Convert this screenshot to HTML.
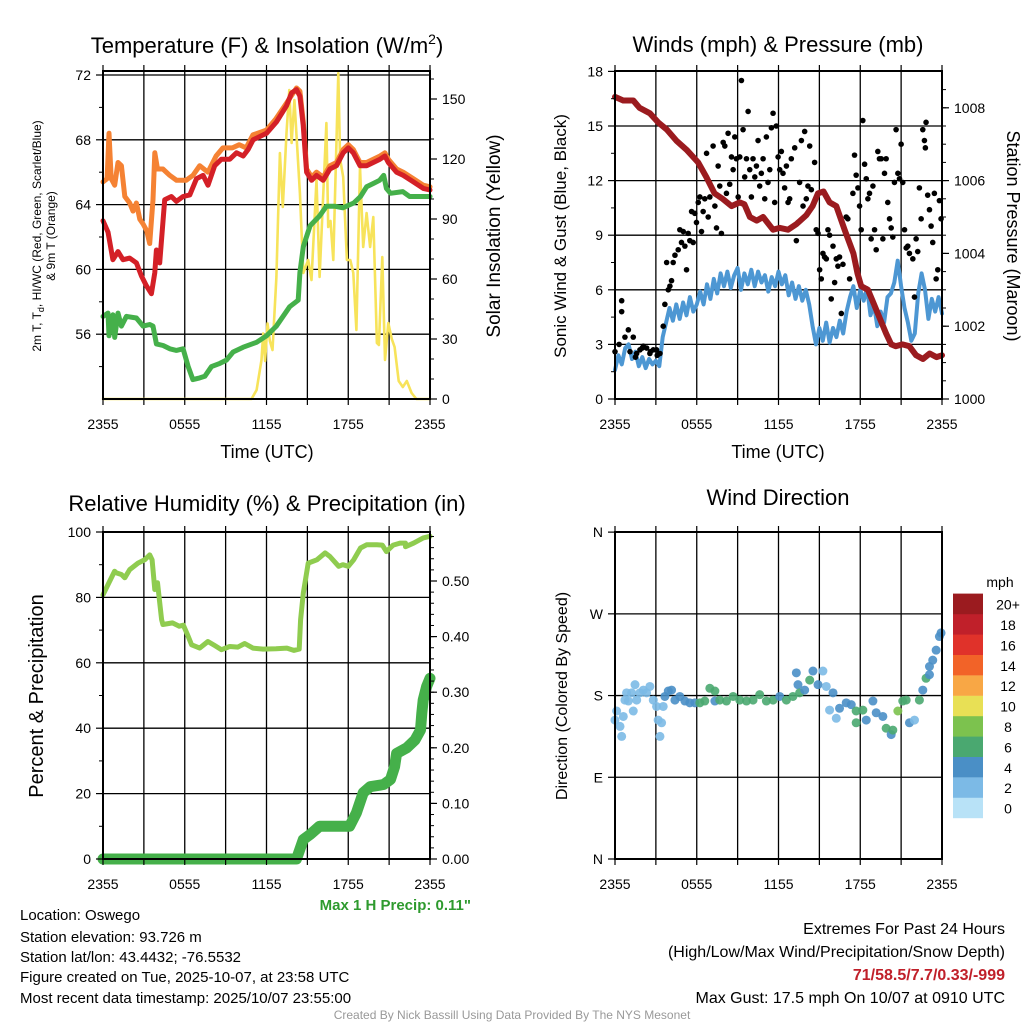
<!DOCTYPE html>
<html><head><meta charset="utf-8"><style>
body{margin:0;background:#fff}
svg{display:block;font-family:"Liberation Sans",Arial,sans-serif}
</style></head><body>
<svg id="c" width="1024" height="1024" viewBox="0 0 1024 1024" xmlns="http://www.w3.org/2000/svg">
<g id="grid"></g><g id="marks"></g><g id="frames"></g>
<g id="texts" fill="#000">
<text x="267" y="53" font-size="22" text-anchor="middle">Temperature (F) &amp; Insolation (W/m<tspan font-size="14" dy="-9">2</tspan><tspan dy="9">)</tspan></text>
<text x="778" y="52" font-size="22" text-anchor="middle">Winds (mph) &amp; Pressure (mb)</text>
<text x="267" y="511" font-size="22" text-anchor="middle">Relative Humidity (%) &amp; Precipitation (in)</text>
<text x="778" y="505" font-size="22" text-anchor="middle">Wind Direction</text>
<text x="267" y="458" font-size="18" text-anchor="middle">Time (UTC)</text>
<text x="778" y="458" font-size="18" text-anchor="middle">Time (UTC)</text>
<text transform="translate(41,236) rotate(-90)" font-size="12" text-anchor="middle">2m T, T<tspan font-size="9" dy="3">d</tspan><tspan dy="-3">, HI/WC (Red, Green, Scarlet/Blue)</tspan></text>
<text transform="translate(55,236) rotate(-90)" font-size="12" text-anchor="middle">&amp; 9m T (Orange)</text>
<text transform="translate(500,236) rotate(-90)" font-size="19" text-anchor="middle">Solar Insolation (Yellow)</text>
<text transform="translate(566,236) rotate(-90)" font-size="17" text-anchor="middle">Sonic Wind &amp; Gust (Blue, Black)</text>
<text transform="translate(1007,236) rotate(90)" font-size="18" text-anchor="middle">Station Pressure (Maroon)</text>
<text transform="translate(43,696) rotate(-90)" font-size="20" text-anchor="middle">Percent &amp; Precipitation</text>
<text transform="translate(567,696) rotate(-90)" font-size="16" text-anchor="middle">Direction (Colored By Speed)</text>
<text x="471" y="910" font-size="15" font-weight="bold" fill="#2e9a2e" text-anchor="end">Max 1 H Precip: 0.11"</text>
<g font-size="15">
<text x="20" y="920">Location: Oswego</text>
<text x="20" y="942">Station elevation: 93.726 m</text>
<text x="20" y="962">Station lat/lon: 43.4432; -76.5532</text>
<text x="20" y="982">Figure created on Tue, 2025-10-07, at 23:58 UTC</text>
<text x="20" y="1003">Most recent data timestamp: 2025/10/07 23:55:00</text>
</g>
<g font-size="16" text-anchor="end">
<text x="1005" y="934">Extremes For Past 24 Hours</text>
<text x="1005" y="957">(High/Low/Max Wind/Precipitation/Snow Depth)</text>
<text x="1005" y="980" font-weight="bold" fill="#c0202a">71/58.5/7.7/0.33/-999</text>
<text x="1005" y="1003">Max Gust: 17.5 mph On 10/07 at 0910 UTC</text>
</g>
<text x="512" y="1019" font-size="12" fill="#999" text-anchor="middle">Created By Nick Bassill Using Data Provided By The NYS Mesonet</text>
<text x="1000" y="587" font-size="14" text-anchor="middle">mph</text>
</g>
</svg>
<script>
// ---------- data ----------
const xTickLabels = ["2355","0555","1155","1755","2355"];
const tempT = [0,0.37,0.73,1.10,1.47,1.96,2.45,2.82,3.18,3.55,3.80,3.92,4.16,4.53,5.02,5.39,5.88,6.37,6.86,7.35,7.71,8.20,8.69,9.31,9.80,10.29,10.65,11.02,12.0,12.73,13.47,13.84,14.2,14.45,14.69,14.94,15.31,15.67,16.16,16.65,17.14,17.63,18.0,18.37,18.86,19.35,19.84,20.33,20.69,20.94,21.55,22.04,22.78,23.51,24];
const tempF = [63.0,62.3,60.6,61.1,60.6,60.7,60.4,59.6,59.0,58.5,59.8,61.2,60.4,64.3,64.5,64.2,64.5,64.6,65.6,65.8,65.2,66.4,66.8,66.8,67.2,67.0,67.4,68.0,68.4,69.1,70.1,70.9,71.1,70.7,68.9,66.0,65.5,65.8,65.5,66.2,66.4,67.2,67.5,67.2,66.4,66.4,66.6,66.8,67.0,66.6,66.0,65.8,65.4,65.0,64.9];
const t9T = [0,0.3,0.44,0.6,0.86,1.1,1.35,1.6,1.96,2.2,2.45,2.7,2.94,3.2,3.43,3.67,3.8,4.0,4.4,4.9,5.4,6.1,6.6,7.1,7.7,8.3,8.8,9.5,10.0,10.5,11.0,12.0,12.7,13.5,14.2,14.45,14.7,14.94,15.31,15.67,16.16,16.65,17.14,17.63,18.0,18.37,18.86,19.35,19.84,20.33,20.69,20.94,21.55,22.04,22.78,23.51,24];
const t9F = [65.4,65.6,68.4,65.6,65.2,66.6,66.4,64.5,64.1,63.6,64.1,63.1,62.8,62.4,61.6,64.3,67.2,66.2,66.2,65.8,65.5,65.5,65.8,66.4,66.0,67.0,67.5,67.5,67.7,67.5,68.3,68.6,69.3,70.3,71.2,71.0,69.1,66.2,65.7,66.0,65.7,66.4,66.6,67.4,67.7,67.4,66.6,66.6,66.8,67.0,67.2,66.8,66.2,66.0,65.6,65.2,65.1];
const dewT = [0,0.37,0.44,0.73,0.86,1.10,1.35,1.72,2.45,2.94,3.43,3.67,3.92,4.41,4.9,5.39,5.88,6.25,6.6,7.1,7.47,7.96,8.57,9.06,9.55,10.29,11.27,12.0,12.73,13.7,14.33,14.45,14.7,15.2,15.9,16.4,17.0,17.6,18.4,18.9,19.35,19.84,20.3,20.6,20.8,21.1,22.0,22.5,23.3,24];
const dewF = [57.1,57.3,55.9,57.2,55.8,57.3,56.5,57.1,57.0,56.5,56.6,56.5,55.4,55.3,55.1,55.0,55.1,54.0,53.2,53.3,53.4,54.0,54.2,54.4,54.9,55.2,55.5,55.9,56.5,57.7,58.1,59.8,61.4,62.7,63.3,63.9,63.9,63.8,64.1,64.5,65.1,65.3,65.5,65.8,65.0,64.7,64.8,64.5,64.5,64.5];
const solT = [0,10.9,11.27,11.63,11.76,11.9,12.07,12.25,12.44,12.73,12.98,13.2,13.47,13.67,13.84,14.05,14.25,14.45,14.7,15.06,15.3,15.67,15.9,16.4,16.53,16.7,16.9,17.27,17.4,17.63,17.9,18.15,18.37,18.6,18.86,19.1,19.35,19.6,19.84,20.1,20.25,20.5,20.7,20.94,21.2,21.4,21.7,22.0,22.3,22.65,23.0,24];
const solW = [0,0,4.5,19.5,32.8,19,37.8,29,24.5,61,123,96,133,154.5,128,149.5,126,103,63,69.5,59.5,109.5,61,138,86,89,69.5,163,120,111,69.5,69.5,63,34.5,116,76,93,76,91,28,27,71,19.5,38,30,26,9,6,9,3,0,0];
const presT = [0,0.6,1.34,1.8,2.56,3.17,3.8,4.5,5.25,6.1,6.7,7.3,7.9,8.55,9.16,9.5,9.9,10.4,10.87,11.6,12.1,12.7,13.3,14.04,14.5,14.9,15.3,15.75,16.24,16.85,17.5,17.8,18.07,18.56,18.9,19.4,19.9,20.27,20.6,21.1,21.6,22.1,22.6,23.1,23.6,24];
const presMb = [1008.3,1008.2,1008.2,1008.0,1007.85,1007.6,1007.4,1007.1,1006.85,1006.5,1006.1,1005.65,1005.5,1005.3,1005.4,1005.35,1005.0,1004.9,1005.0,1004.65,1004.7,1004.65,1004.8,1005.05,1005.3,1005.65,1005.7,1005.4,1005.3,1004.65,1004.0,1003.45,1003.1,1003.0,1002.7,1002.25,1001.8,1001.5,1001.45,1001.5,1001.45,1001.2,1001.1,1001.25,1001.15,1001.2];
const windMph = [1.6,2.4,1.9,2.8,3.0,2.2,2.6,1.8,2.3,1.7,2.2,1.9,2.1,1.8,3.4,4.2,5.0,4.3,5.2,4.4,5.3,4.6,5.6,4.8,5.2,5.9,5.2,6.3,5.5,6.6,5.8,6.9,6.2,7.0,6.1,6.8,7.2,6.0,6.9,6.3,7.1,6.2,7.0,6.4,6.8,5.9,6.7,6.2,7.0,6.3,6.8,5.7,6.4,5.5,6.2,5.4,6.0,5.2,4.0,3.0,3.9,3.2,4.2,3.1,3.9,3.4,4.3,3.6,4.8,5.6,6.2,5.0,6.0,5.4,6.1,4.6,5.2,4.0,4.8,4.2,5.6,5.8,6.4,7.6,6.2,5.0,4.2,3.2,3.6,5.8,6.9,6.0,4.4,5.5,4.8,5.6,4.7];
const gustT = [0,0.49,0.49,0.73,0.98,1.34,1.59,1.83,2.08,2.32,2.56,2.81,3.05,3.30,3.54,3.66,3.79,3.91,4.03,4.15,4.27,4.40,4.64,4.76,4.88,5.01,5.13,5.25,5.37,5.49,5.62,5.74,5.86,5.98,6.11,6.23,6.35,6.47,6.59,6.72,6.84,6.96,7.20,7.33,7.45,7.57,7.69,7.81,7.94,8.06,8.18,8.30,8.42,8.55,8.67,8.79,8.91,9.04,9.16,9.28,9.40,9.52,9.65,9.77,9.89,10.01,10.13,10.26,10.38,10.50,10.62,10.74,10.87,10.99,11.11,11.23,11.36,11.48,11.60,11.72,11.84,11.97,12.09,12.21,12.33,12.45,12.58,12.70,12.82,12.94,13.19,13.31,13.43,13.55,13.68,13.80,13.92,14.04,14.16,14.29,14.41,14.65,14.77,14.90,15.02,15.14,15.26,15.38,15.51,15.63,15.75,15.87,16.00,16.12,16.24,16.36,16.48,16.61,16.73,16.97,17.09,17.22,17.46,17.58,17.70,17.83,17.95,18.07,18.19,18.32,18.44,18.56,18.68,18.80,18.93,19.05,19.17,19.29,19.41,19.54,19.66,19.78,19.90,20.02,20.15,20.27,20.39,20.51,20.63,20.76,20.88,21.00,21.12,21.25,21.37,21.49,21.61,21.86,21.98,22.10,22.22,22.34,22.47,22.59,22.71,22.78,22.83,22.95,23.08,23.20,23.32,23.44,23.57,23.69,23.81,23.93,0.3,1.1,1.5,2.0,2.6,3.1];
const gustMph = [2.6,5.4,4.8,3.4,3.8,3.4,2.5,2.7,2.9,2.8,2.5,2.7,2.7,2.5,4.0,5.2,7.5,6.0,6.2,6.5,7.5,7.9,8.2,9.3,8.6,9.2,8.4,7.1,9.1,8.7,10.3,8.6,10.2,9.7,10.8,11.1,9.2,10.3,11.0,13.5,10.0,11.1,13.9,10.6,9.4,12.8,11.7,9.1,14.1,13.9,11.3,14.6,11.8,13.3,12.6,14.4,13.2,11.1,13.3,17.5,14.8,12.2,13.2,15.8,12.6,11.1,13.2,12.2,12.8,14.2,11.7,12.4,13.2,11.0,14.4,11.9,12.6,14.9,15.7,10.8,15.0,13.3,12.6,13.6,12.4,11.6,12.8,10.8,11.0,13.2,13.8,8.7,9.7,11.9,14.2,10.6,14.7,11.0,11.7,13.9,11.5,13.0,9.3,9.1,7.1,6.6,8.0,7.8,7.7,9.3,9.0,5.5,8.4,6.4,7.7,7.3,7.8,4.7,7.4,10.0,9.9,6.6,11.3,13.4,12.3,11.6,10.6,9.3,15.3,12.9,12.1,11.0,11.3,8.8,11.7,9.3,8.2,13.6,13.2,13.2,8.8,12.4,13.2,10.8,9.9,9.4,8.9,11.9,14.8,12.4,12.1,14.0,11.9,9.3,8.3,8.4,8.0,7.7,5.6,8.8,8.1,11.6,9.9,14.8,14.2,13.8,15.2,11.2,10.4,9.5,8.6,11.3,6.6,7.1,10.9,9.9,3.0,2.6,2.3,2.8,2.6,2.4];
const rhT = [0,0.37,0.6,0.85,0.98,1.35,1.6,1.96,2.57,3.06,3.43,3.6,3.8,4.0,4.3,4.4,5.1,5.6,5.9,6.2,6.5,7.1,7.7,8.2,8.7,9.3,9.9,10.4,11.0,11.75,12.7,13.5,14.0,14.4,14.5,14.7,15.06,15.7,16.3,16.65,17.3,17.6,18.0,18.4,18.9,19.35,20.1,20.5,20.8,21.3,21.8,22.2,22.2,22.8,23.5,24];
const rhPct = [80.8,83.9,85.9,88,87.5,87,86,88.5,90.5,91.5,93,91.5,82.4,84.5,73.2,71.7,72.2,71.2,71.5,68.6,65.5,64.5,66.5,65.3,64,65,64.8,65.9,64.5,64.2,64.3,64.5,63.8,64.2,73.2,81.3,90.5,91.5,93.6,92.5,89.5,90,89.5,91.5,95.1,96.1,96.1,96.0,94,96,96.6,96.6,95.5,96.6,98.2,98.7];
const prT = [0,14.2,14.7,15.2,15.9,18.1,18.6,19.1,19.6,20.6,21.1,21.4,21.55,22.3,22.9,23.3,23.4,23.5,23.75,24];
const prIn = [0,0,0.035,0.044,0.059,0.059,0.083,0.119,0.13,0.134,0.143,0.166,0.19,0.2,0.214,0.232,0.262,0.286,0.31,0.325];
const dirT = [0,0.12,0.49,0.37,0.61,0.73,0.85,0.98,1.22,1.34,1.47,1.59,1.83,2.08,2.32,2.56,2.81,3.05,3.17,3.30,3.42,3.54,3.66,3.91,4.15,4.40,4.76,5.13,5.49,5.86,6.23,6.59,6.96,7.33,7.33,7.69,8.18,8.67,9.16,9.65,10.13,10.62,11.11,11.60,12.09,12.58,13.06,13.31,13.43,13.55,13.92,14.29,14.53,14.90,15.26,15.51,16.00,15.75,16.24,16.48,16.97,17.34,17.70,18.19,17.70,18.44,18.93,19.17,19.66,19.90,20.27,20.39,20.76,21.12,21.37,21.61,21.98,22.34,22.59,22.83,23.08,23.08,23.32,23.57,23.81,23.93];
const dirDeg = [153,163,135,146,157,175,183,174,183,163,192,175,183,186,183,190,175,168,153,135,150,168,179,185,186,175,179,174,172,172,172,174,188,185,174,175,174,179,175,174,175,181,174,175,179,175,179,205,192,183,186,197,207,192,207,190,183,164,155,166,172,170,163,164,150,153,174,161,157,144,137,142,163,174,175,150,153,175,186,199,203,212,219,230,245,249];
const dirSpd = [2,2,2,2,2,2,2,2,2,2,2,2,2,2,2,2,2,2,2,2,2,2,4,4,4,4,4,4,4,4,6,6,6,6,4,6,6,6,6,6,6,6,6,6,4,6,6,4,4,6,4,6,4,4,2,2,4,2,2,4,4,4,6,6,6,4,4,4,4,6,4,6,8,6,6,4,2,6,4,6,4,4,4,4,4,4];
const cbLabels = ["0","2","4","6","8","10","12","14","16","18","20+"];
const cbColors = ["#b8e2f7","#7cbae6","#4a8fc6","#4aa870","#7cc24e","#e8e055","#f8a745","#f26328","#e0322a","#c0202a","#9b1b1f"];

// ---------- helpers ----------
const NS="http://www.w3.org/2000/svg";
const G=document.getElementById('grid'),M=document.getElementById('marks'),F=document.getElementById('frames');
function mk(tag,attrs,parent){const e=document.createElementNS(NS,tag);for(const k in attrs)e.setAttribute(k,attrs[k]);parent.appendChild(e);return e;}
function xs(P,t){return P.x0+(t/24)*(P.x1-P.x0);}
const P1={x0:103,x1:430,y0:71,y1:399}, P2={x0:615,x1:942,y0:71,y1:399}, P3={x0:103,x1:430,y0:532,y1:859}, P4={x0:615,x1:942,y0:532,y1:859};
const yTemp=v=>399-(v-52)*16.2, ySol=v=>399-v*2.0;
const yWind=v=>399-v*18.2, yPres=v=>399-(v-1000)*36.4;
const yRH=v=>859-v*3.27, yPr=v=>859-v*556;
const yDir=v=>859-v*0.908;

function frame(P,name,hlines,leftLabels,leftMinor,rightMajor,rightMinor){
  for(let i=1;i<8;i++){const x=xs(P,i*3);
    const l=mk('line',{x1:x,x2:x,y1:P.y0,y2:P.y1,stroke:'#000','stroke-width':1.3},G);
    
    }
  hlines.forEach(y=>{const l=mk('line',{x1:P.x0,x2:P.x1,y1:y,y2:y,stroke:'#000','stroke-width':1.3},G);
    
    });
  const r=mk('rect',{x:P.x0,y:P.y0,width:P.x1-P.x0,height:P.y1-P.y0,fill:'none',stroke:'#000','stroke-width':2},F);
  
  
  for(let i=0;i<=8;i++){const x=xs(P,i*3);mk('line',{x1:x,x2:x,y1:P.y1,y2:P.y1+6,stroke:'#000','stroke-width':1.2},F);
    mk('line',{x1:x,x2:x,y1:P.y0,y2:P.y0-6,stroke:'#000','stroke-width':1.2},F);}
  for(let i=0;i<5;i++){const t=mk('text',{x:xs(P,i*6),y:P.y1+30,'font-size':14,'text-anchor':'middle'},F);t.textContent=xTickLabels[i];
    
    }
  leftLabels.forEach(([y,s])=>{mk('line',{x1:P.x0-7,x2:P.x0,y1:y,y2:y,stroke:'#000','stroke-width':1.2},F);
    const t=mk('text',{x:P.x0-12,y:y+5,'font-size':14,'text-anchor':'end'},F);t.textContent=s;
    
    });
  leftMinor.forEach(y=>mk('line',{x1:P.x0-4,x2:P.x0,y1:y,y2:y,stroke:'#000','stroke-width':1},F));
  rightMajor.forEach(([y,s])=>{mk('line',{x1:P.x1,x2:P.x1+7,y1:y,y2:y,stroke:'#000','stroke-width':1.2},F);
    if(s!==null){const t=mk('text',{x:P.x1+12,y:y+5,'font-size':14,'text-anchor':'start'},F);t.textContent=s;
    
    }});
  rightMinor.forEach(y=>mk('line',{x1:P.x1,x2:P.x1+4,y1:y,y2:y,stroke:'#000','stroke-width':1},F));
}
function range(a,b,s){const r=[];for(let v=a;v<=b+1e-9;v+=s)r.push(+v.toFixed(4));return r;}
function line(P,T,V,fy,color,w,name){
  const d=T.map((t,i)=>(i?'L':'M')+xs(P,t).toFixed(1)+','+fy(V[i]).toFixed(1)).join('');
  const p=mk('path',{d:d,fill:'none',stroke:color,'stroke-width':w,'stroke-linejoin':'round','stroke-linecap':'round'},M);
  
  
}

// Panel 1
frame(P1,'temp',[56,60,64,68,72].map(yTemp),
  [[56,'56'],[60,'60'],[64,'64'],[68,'68'],[72,'72']].map(a=>[yTemp(a[0]),a[1]]),
  range(54,70,4).map(yTemp),
  range(0,150,30).map(v=>[ySol(v),String(v)]), range(10,160,10).map(ySol));
line(P1,solT,solW,ySol,'#f7e35a',2.6,'insolation-line');
line(P1,t9T,t9F,yTemp,'#f58233',5,'temp-9m-line');
line(P1,tempT,tempF,yTemp,'#d42027',5,'temp-2m-line');
line(P1,dewT,dewF,yTemp,'#45b04a',5,'dewpoint-line');

// Panel 2
frame(P2,'wind',range(3,15,3).map(yWind),
  range(0,18,3).map(v=>[yWind(v),String(v)]), range(1.5,16.5,3).map(yWind),
  range(1000,1008,2).map(v=>[yPres(v),String(v)]), range(1000.5,1008.5,0.5).map(yPres));
const windT = windMph.map((v,i)=>i*0.25);
line(P2,windT,windMph,yWind,'#4d97d3',4,'wind-speed-line');
gustT.forEach((t,i)=>{const c=mk('circle',{cx:xs(P2,t),cy:yWind(gustMph[i]),r:2.8,fill:'#000'},M);
  
  });
line(P2,presT,presMb,yPres,'#9b1b1f',6,'pressure-line');

// Panel 3
frame(P3,'humidity',range(20,80,20).map(yRH),
  range(0,100,20).map(v=>[yRH(v),String(v)]), range(10,90,20).map(yRH),
  range(0,0.5,0.1).map(v=>[yPr(v),v.toFixed(2)]), range(0.02,0.58,0.02).map(yPr));
line(P3,rhT,rhPct,yRH,'#8fcc4f',5,'humidity-line');
line(P3,prT,prIn,yPr,'#45b04a',11,'precip-line');

// Panel 4
frame(P4,'direction',[90,180,270].map(yDir),
  [[0,'N'],[90,'E'],[180,'S'],[270,'W'],[360,'N']].map(a=>[yDir(a[0]),a[1]]), [], [], []);
dirT.forEach((t,i)=>{const c=mk('circle',{cx:xs(P4,t),cy:yDir(dirDeg[i]),r:4.5,fill:cbColors[Math.min(10,Math.floor(dirSpd[i]/2))],'fill-opacity':0.9},M);
  
  });
// colorbar
cbColors.forEach((col,i)=>{const y=818-(i+1)*20.4;
  const r=mk('rect',{x:953,y:y,width:30,height:20.6,fill:col},F);
  
  
  const t=mk('text',{x:1008,y:y+16,'font-size':14,'text-anchor':'middle'},F);t.textContent=cbLabels[i];
  
  });
</script>
</body></html>
